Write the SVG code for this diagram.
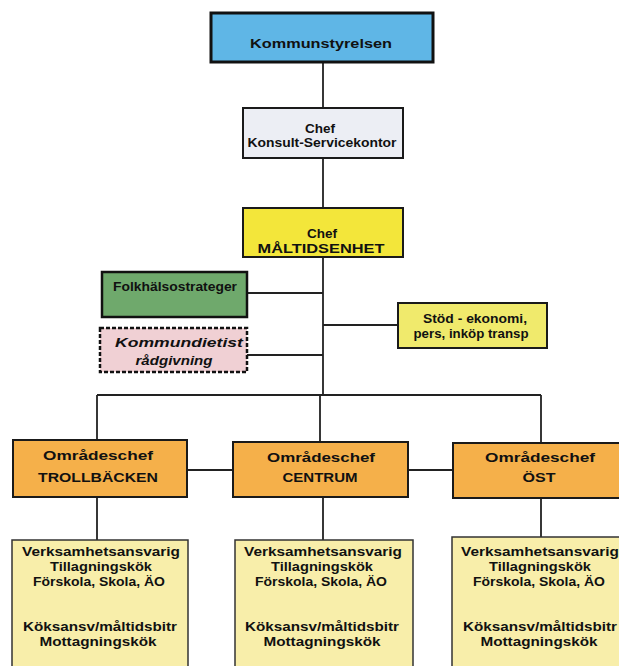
<svg xmlns="http://www.w3.org/2000/svg" width="619" height="666" viewBox="0 0 619 666">
<style>
.b{stroke:#1a1a1a;stroke-width:2}
.t{font-family:"Liberation Sans",Arial,sans-serif;font-weight:bold;font-size:13.5px;fill:#111;text-anchor:middle}
.c{stroke:#222;stroke-width:1.8;fill:none}
</style>
<rect width="619" height="666" fill="#ffffff"/>
<g id="connectors">
<path class="c" d="M323 62V108M323 158V208M323 257V395M247 293H323M247 355H323M323 325H398M97 395H541M97 395V440M320 395V442M541 395V443M187 470H233M408 470H453M97 497V540M323 497V540M541 498V537"/>
</g>
<g id="kommunstyrelsen">
<rect x="211" y="13" width="222" height="49" fill="#5fb6e6" stroke="#111" stroke-width="3"/>
<text class="t" x="321" y="48" font-size="15" textLength="142" lengthAdjust="spacingAndGlyphs">Kommunstyrelsen</text>
</g>
<g id="konsult">
<rect class="b" x="243" y="108" width="160" height="50" fill="#eceef4"/>
<text class="t" x="320" y="133">Chef</text>
<text class="t" x="322" y="147" textLength="149" lengthAdjust="spacingAndGlyphs">Konsult-Servicekontor</text>
</g>
<g id="maltidsenhet">
<rect class="b" x="243" y="208" width="160" height="49" fill="#f3e63a"/>
<text class="t" x="322" y="238">Chef</text>
<text class="t" x="321" y="253" textLength="127" lengthAdjust="spacingAndGlyphs">MÅLTIDSENHET</text>
</g>
<g id="folkhalsa">
<rect x="102" y="272" width="145" height="45" fill="#6fa96c" stroke="#111" stroke-width="2.5"/>
<text class="t" x="175" y="291" textLength="124" lengthAdjust="spacingAndGlyphs">Folkhälsostrateger</text>
</g>
<g id="dietist">
<rect x="100" y="328" width="147" height="44" fill="#f0d0d4" stroke="#111" stroke-width="2.5" stroke-dasharray="4 2"/>
<text class="t" x="179" y="347" font-style="italic" textLength="128" lengthAdjust="spacingAndGlyphs">Kommundietist</text>
<text class="t" x="174" y="365" font-style="italic" textLength="77" lengthAdjust="spacingAndGlyphs">rådgivning</text>
</g>
<g id="stod">
<rect class="b" x="398" y="303" width="149" height="45" fill="#f0ea6c"/>
<text class="t" x="475" y="323" font-size="12.5" textLength="104" lengthAdjust="spacingAndGlyphs">Stöd - ekonomi,</text>
<text class="t" x="471" y="338" font-size="12.5" textLength="115" lengthAdjust="spacingAndGlyphs">pers, inköp transp</text>
</g>
<g id="trollbacken">
<rect class="b" x="13" y="440" width="174" height="57" fill="#f5b04a"/>
<text class="t" x="98" y="460" textLength="110" lengthAdjust="spacingAndGlyphs">Områdeschef</text>
<text class="t" x="98" y="482" font-size="15" textLength="120" lengthAdjust="spacingAndGlyphs">TROLLBÄCKEN</text>
</g>
<g id="centrum">
<rect class="b" x="233" y="442" width="175" height="55" fill="#f5b04a"/>
<text class="t" x="321" y="462" textLength="108" lengthAdjust="spacingAndGlyphs">Områdeschef</text>
<text class="t" x="320" y="482" font-size="15" textLength="75" lengthAdjust="spacingAndGlyphs">CENTRUM</text>
</g>
<g id="ost">
<rect class="b" x="453" y="443" width="180" height="55" fill="#f5b04a"/>
<text class="t" x="540" y="462" textLength="110" lengthAdjust="spacingAndGlyphs">Områdeschef</text>
<text class="t" x="539" y="482" font-size="15" textLength="33" lengthAdjust="spacingAndGlyphs">ÖST</text>
</g>
<g id="kok-trollbacken">
<rect x="12" y="540" width="176" height="140" fill="#f8eeaa" stroke="#333" stroke-width="1.5"/>
<text class="t" x="101" y="556" textLength="158" lengthAdjust="spacingAndGlyphs">Verksamhetsansvarig</text>
<text class="t" x="101" y="571" textLength="102" lengthAdjust="spacingAndGlyphs">Tillagningskök</text>
<text class="t" x="99" y="586" textLength="132" lengthAdjust="spacingAndGlyphs">Förskola, Skola, ÄO</text>
<text class="t" x="100" y="631" textLength="154" lengthAdjust="spacingAndGlyphs">Köksansv/måltidsbitr</text>
<text class="t" x="98" y="646" textLength="117" lengthAdjust="spacingAndGlyphs">Mottagningskök</text>
</g>
<g id="kok-centrum">
<rect x="235" y="540" width="178" height="140" fill="#f8eeaa" stroke="#333" stroke-width="1.5"/>
<text class="t" x="323" y="556" textLength="158" lengthAdjust="spacingAndGlyphs">Verksamhetsansvarig</text>
<text class="t" x="322" y="571" textLength="102" lengthAdjust="spacingAndGlyphs">Tillagningskök</text>
<text class="t" x="321" y="586" textLength="132" lengthAdjust="spacingAndGlyphs">Förskola, Skola, ÄO</text>
<text class="t" x="322" y="631" textLength="154" lengthAdjust="spacingAndGlyphs">Köksansv/måltidsbitr</text>
<text class="t" x="322" y="646" textLength="117" lengthAdjust="spacingAndGlyphs">Mottagningskök</text>
</g>
<g id="kok-ost">
<rect x="452" y="537" width="180" height="143" fill="#f8eeaa" stroke="#333" stroke-width="1.5"/>
<text class="t" x="540" y="556" textLength="158" lengthAdjust="spacingAndGlyphs">Verksamhetsansvarig</text>
<text class="t" x="540" y="571" textLength="102" lengthAdjust="spacingAndGlyphs">Tillagningskök</text>
<text class="t" x="539" y="586" textLength="132" lengthAdjust="spacingAndGlyphs">Förskola, Skola, ÄO</text>
<text class="t" x="540" y="631" textLength="154" lengthAdjust="spacingAndGlyphs">Köksansv/måltidsbitr</text>
<text class="t" x="539" y="646" textLength="117" lengthAdjust="spacingAndGlyphs">Mottagningskök</text>
</g>
</svg>
